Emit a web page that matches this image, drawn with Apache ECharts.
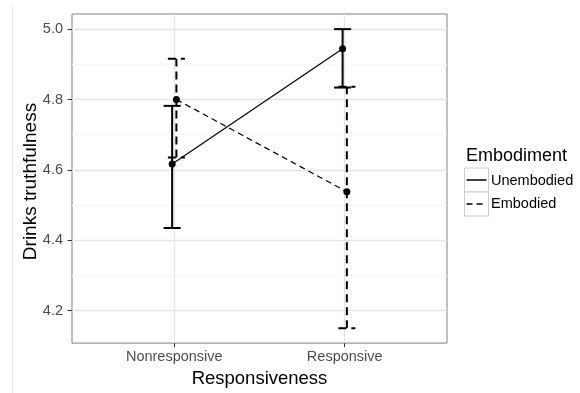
<!DOCTYPE html>
<html>
<head>
<meta charset="utf-8">
<script src="https://cdn.jsdelivr.net/npm/echarts@6/dist/echarts.min.js"></script>
<style>
html,body{margin:0;padding:0;background:#fff;}
#chart{width:580px;height:393px;}
</style>
</head>
<body>
<div id="chart"></div>
<script>
// ---- data ----
const categories = ['Nonresponsive', 'Responsive'];
const groups = ['Unembodied', 'Embodied'];
const unembodiedMean = [4.617, 4.944];
const unembodiedLow  = [4.435, 4.834];
const unembodiedHigh = [4.782, 5.000];
const embodiedMean   = [4.800, 4.538];
const embodiedLow    = [4.635, 4.150];
const embodiedHigh   = [4.916, 4.836];
const yTicks = [4.2, 4.4, 4.6, 4.8, 5.0];
const yMinorTicks = [4.3, 4.5, 4.7, 4.9];
const xTitle = 'Responsiveness';
const yTitle = 'Drinks truthfulness';
const legendTitle = 'Embodiment';

// ---- layout / style constants ----
const FONT = 'Liberation Sans, Arial, sans-serif';
const DODGE = 0.0125;
const CAP = 0.1;
const xPos = categories.map((c, i) => i + 1);

function pts(mean, off) { return mean.map((m, i) => [xPos[i] + off, m]); }
function bars(lo, hi, off) { return lo.map((l, i) => [xPos[i] + off, l, hi[i]]); }

function errRender(dash) {
  return function (params, api) {
    const x = api.value(0), lo = api.value(1), hi = api.value(2);
    const a = api.coord([x, lo]), b = api.coord([x, hi]);
    const l1 = api.coord([x - CAP / 2, lo]), r1 = api.coord([x + CAP / 2, lo]);
    const l2 = api.coord([x - CAP / 2, hi]), r2 = api.coord([x + CAP / 2, hi]);
    const st = { stroke: '#000', lineWidth: 2, lineDash: dash };
    return {
      type: 'group',
      children: [
        { type: 'line', shape: { x1: a[0], y1: a[1], x2: b[0], y2: b[1] }, style: st },
        { type: 'line', shape: { x1: l1[0], y1: l1[1], x2: r1[0], y2: r1[1] }, style: st },
        { type: 'line', shape: { x1: l2[0], y1: l2[1], x2: r2[0], y2: r2[1] }, style: st }
      ]
    };
  };
}

const chart = echarts.init(document.getElementById('chart'), null, { renderer: 'canvas' });

const gridLineData = []
  .concat(yMinorTicks.map(v => ({ yAxis: v, lineStyle: { color: '#f7f7f7', width: 1.4, type: 'solid' } })))
  .concat(yTicks.map(v => ({ yAxis: v, lineStyle: { color: '#e5e5e5', width: 1.3, type: 'solid' } })))
  .concat(xPos.map(v => ({ xAxis: v, lineStyle: { color: '#e5e5e5', width: 1.3, type: 'solid' } })));

chart.setOption({
  animation: false,
  backgroundColor: '#fff',
  textStyle: { fontFamily: FONT },
  grid: {
    left: 72, top: 14, width: 375, height: 335,
    show: true, backgroundColor: '#fff', borderColor: '#808080', borderWidth: 1
  },
  xAxis: {
    type: 'value', min: 0.4, max: 2.6,
    splitLine: { show: false },
    axisLine: { show: false },
    axisTick: { show: true, customValues: xPos, length: 4, lineStyle: { color: '#333', width: 1 } },
    axisLabel: {
      customValues: xPos, margin: 6, color: '#4d4d4d', fontSize: 14.5, fontFamily: FONT,
      formatter: v => categories[Math.round(v) - 1] || ''
    },
    name: xTitle, nameLocation: 'middle', nameGap: 25,
    nameTextStyle: { color: '#000', fontSize: 18.5, fontFamily: FONT, verticalAlign: 'top' }
  },
  yAxis: {
    type: 'value', min: 4.108, max: 5.043,
    splitLine: { show: false },
    axisLine: { show: false },
    axisTick: { show: true, customValues: yTicks, length: 4.5, lineStyle: { color: '#333', width: 1 } },
    axisLabel: {
      customValues: yTicks, margin: 9, color: '#4d4d4d', fontSize: 14.5, fontFamily: FONT,
      formatter: v => v.toFixed(1)
    }
  },
  series: [
    {
      type: 'line', data: [], z: 1, silent: true,
      markLine: {
        silent: true, symbol: ['none', 'none'], label: { show: false },
        emphasis: { disabled: true }, animation: false,
        data: gridLineData
      }
    },
    {
      name: groups[0] + ' error', type: 'custom', z: 5,
      renderItem: errRender(null),
      encode: { x: 0, y: [1, 2] },
      data: bars(unembodiedLow, unembodiedHigh, -DODGE)
    },
    {
      name: groups[1] + ' error', type: 'custom', z: 5,
      renderItem: errRender([8, 5]),
      encode: { x: 0, y: [1, 2] },
      data: bars(embodiedLow, embodiedHigh, DODGE)
    },
    {
      name: groups[0], type: 'line', z: 6,
      data: pts(unembodiedMean, -DODGE),
      symbol: 'circle', symbolSize: 7, showSymbol: true,
      itemStyle: { color: '#000' },
      lineStyle: { color: '#000', width: 1.2, type: 'solid' }
    },
    {
      name: groups[1], type: 'line', z: 6,
      data: pts(embodiedMean, DODGE),
      symbol: 'circle', symbolSize: 7, showSymbol: true,
      itemStyle: { color: '#000' },
      lineStyle: { color: '#000', width: 1.2, type: [6, 4] }
    }
  ],
  graphic: [
    { type: 'line', silent: true, shape: { x1: 12.5, y1: 6, x2: 12.5, y2: 393 }, style: { stroke: '#e6e6e6', lineWidth: 1 } },
    { type: 'text', silent: true, x: 31, y: 181.5, rotation: Math.PI / 2,
      style: { text: yTitle, font: '19px ' + FONT, fill: '#000', align: 'center', verticalAlign: 'middle' } },
    { type: 'text', silent: true, left: 466, top: 147,
      style: { text: legendTitle, font: '18px ' + FONT, fill: '#000' } },
    { type: 'rect', silent: true, shape: { x: 464.5, y: 168, width: 24, height: 24 }, style: { fill: '#fff', stroke: '#cccccc', lineWidth: 1 } },
    { type: 'rect', silent: true, shape: { x: 464.5, y: 192, width: 24, height: 24 }, style: { fill: '#fff', stroke: '#cccccc', lineWidth: 1 } },
    { type: 'line', silent: true, shape: { x1: 466.5, y1: 180, x2: 486.5, y2: 180 }, style: { stroke: '#000', lineWidth: 1.5 } },
    { type: 'line', silent: true, shape: { x1: 466.5, y1: 204, x2: 486.5, y2: 204 }, style: { stroke: '#000', lineWidth: 1.5, lineDash: [6, 4] } },
    { type: 'text', silent: true, x: 491, y: 181,
      style: { text: groups[0], font: '14.5px ' + FONT, fill: '#000', verticalAlign: 'middle' } },
    { type: 'text', silent: true, x: 491, y: 204,
      style: { text: groups[1], font: '14.5px ' + FONT, fill: '#000', verticalAlign: 'middle' } }
  ]
});
</script>
</body>
</html>
